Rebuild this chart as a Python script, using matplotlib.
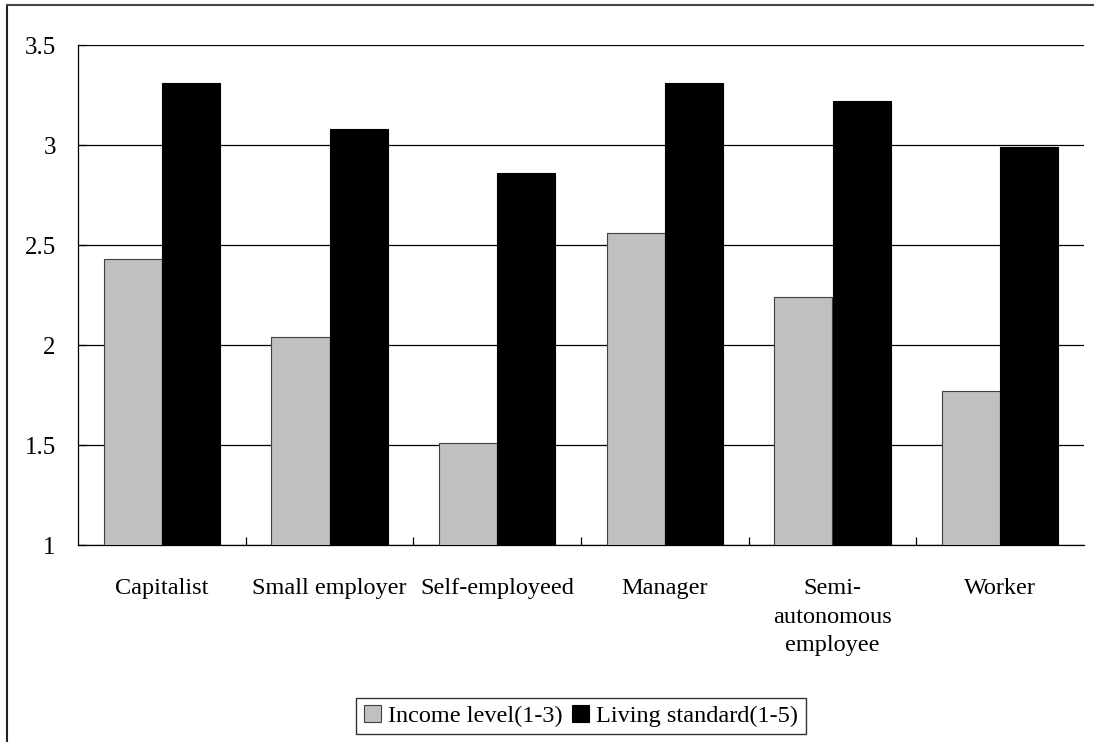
import numpy as np
import matplotlib

matplotlib.use("Agg")
from matplotlib import pyplot as plt
from matplotlib.lines import Line2D

plt.rcParams["font.family"] = ["Liberation Serif", "DejaVu Serif"]

categories = [
    "Capitalist",
    "Small employer",
    "Self-employeed",
    "Manager",
    "Semi-\nautonomous\nemployee",
    "Worker",
]
income = [2.43, 2.04, 1.51, 2.56, 2.24, 1.77]
living = [3.31, 3.08, 2.86, 3.31, 3.22, 2.99]

fig = plt.figure(figsize=(10.94, 7.42), dpi=100)
ax = fig.add_axes([78 / 1094, 197 / 742, 1006 / 1094, 500 / 742])

x = np.arange(len(categories))
w = 0.346
ax.bar(x - w / 2, np.array(income) - 1, w, bottom=1, color="#c0c0c0",
       edgecolor="#404040", linewidth=0.8, label="Income level(1-3)", zorder=3)
ax.bar(x + w / 2, np.array(living) - 1, w, bottom=1, color="black",
       edgecolor="black", linewidth=0.8, label="Living standard(1-5)", zorder=3)

ax.set_xlim(-0.5, len(categories) - 0.5)
ax.set_ylim(1, 3.5)
ax.set_yticks([1, 1.5, 2, 2.5, 3, 3.5])
ax.set_yticklabels(["1", "1.5", "2", "2.5", "3", "3.5"])
ax.yaxis.grid(True, color="black", linewidth=0.9, zorder=0)
ax.set_axisbelow(True)

ax.set_xticks(x)
ax.set_xticklabels(categories, linespacing=1.45)
ax.set_xticks(np.arange(0.5, len(categories) - 1), minor=True)
ax.tick_params(axis="x", which="major", length=0, pad=24, labelsize=17.5)
ax.tick_params(axis="x", which="minor", direction="in", length=6, width=0.9)
ax.tick_params(axis="y", direction="in", length=6, width=0.9, pad=16, labelsize=18)

for s in ["top", "right"]:
    ax.spines[s].set_visible(False)
ax.spines["left"].set_linewidth(0.9)
ax.spines["bottom"].set_linewidth(0.9)

leg = fig.legend(loc="center", bbox_to_anchor=(581 / 1094, 26 / 742), ncol=2,
                 fontsize=17.5, frameon=True, fancybox=False, shadow=False,
                 handlelength=0.7, handleheight=0.7, handletextpad=0.3,
                 columnspacing=0.4, borderpad=0.3, borderaxespad=0)
leg.get_frame().set_edgecolor("black")
leg.get_frame().set_linewidth(1.0)

# outer chart frame (cut off at right and bottom)
fig.add_artist(Line2D([7 / 1094, 7 / 1094], [0, 737 / 742], color="#222222", lw=1.5,
                      transform=fig.transFigure))
fig.add_artist(Line2D([7 / 1094, 1], [737 / 742, 737 / 742], color="#444444", lw=1.5,
                      transform=fig.transFigure))

fig.savefig("out.png", dpi=100)
